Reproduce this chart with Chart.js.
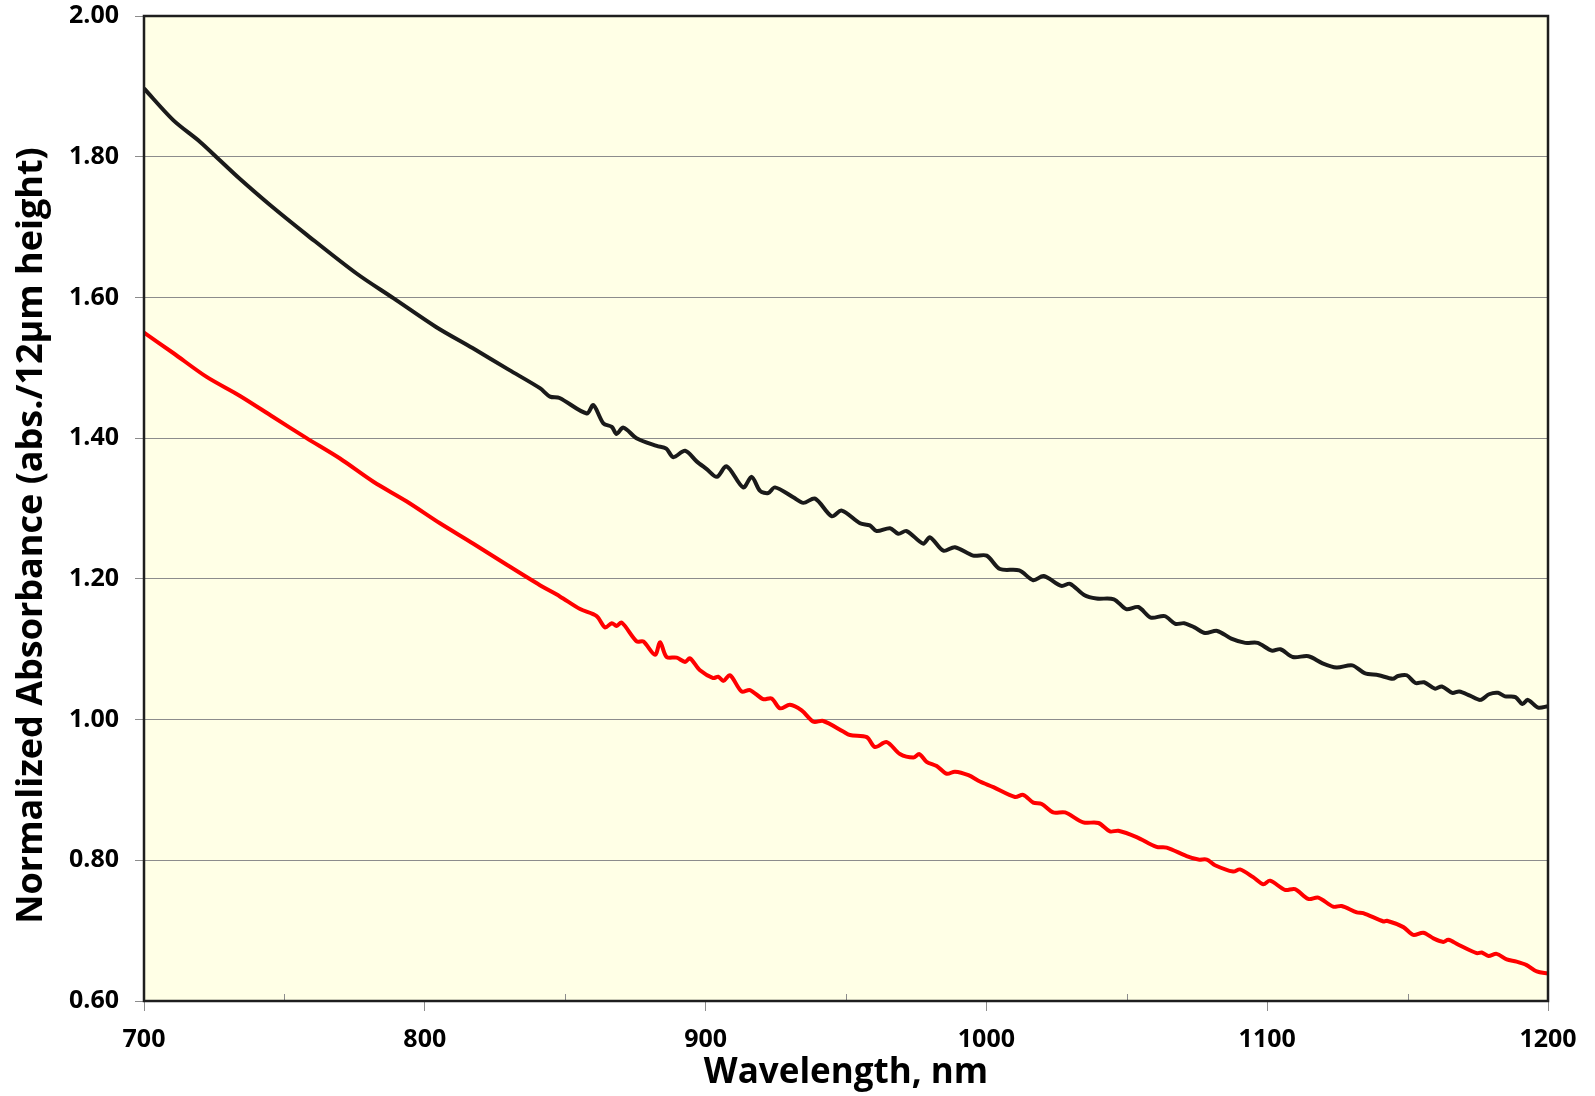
<!DOCTYPE html>
<html>
<head>
<meta charset="utf-8">
<script src="https://cdn.jsdelivr.net/npm/chart.js@4/dist/chart.umd.min.js"></script>
<style>
  html, body { margin:0; padding:0; background:#fff; }
  #wrap { width:1595px; height:1096px; }
</style>
</head>
<body>
<div id="wrap"><canvas id="chart" width="1595" height="1096"></canvas></div>
<script>
// black curve (upper)
const blackWl = [700,710.4,720,727,734,745,758,775.7,788.8,804,817,830,841,844.6,848,857.7,860,863.6,866.6,868.3,870.7,875.4,882.6,886,888.5,892.7,896.8,900.4,904,907.5,913.4,916.4,919.4,922.3,924.7,931.2,934.8,939,944.9,948.5,955,958.5,960.9,965.7,968.6,971.6,977.5,979.9,984.7,988.8,995.3,1000.1,1004.8,1011.7,1016.7,1020.4,1026.7,1029.8,1034.8,1039.2,1045.4,1049.8,1054.1,1058.5,1063.5,1067.3,1070.4,1074.1,1077.9,1082.2,1087.2,1092.2,1096.6,1101.6,1104.7,1109.1,1114.7,1119.7,1124.7,1130.3,1134.7,1139.7,1144.7,1146.6,1149.7,1152.8,1155.9,1159.7,1162.2,1165.9,1168.4,1172.2,1175.9,1179,1182.2,1184.7,1188.4,1190.9,1192.8,1196.5,1200];
const blackAbs = [1.897,1.852,1.821,1.795,1.769,1.731,1.689,1.634,1.599,1.558,1.528,1.497,1.471,1.459,1.457,1.435,1.447,1.421,1.416,1.406,1.415,1.400,1.389,1.385,1.373,1.382,1.367,1.356,1.345,1.360,1.330,1.345,1.325,1.322,1.330,1.316,1.308,1.314,1.289,1.297,1.279,1.276,1.268,1.272,1.264,1.268,1.250,1.259,1.240,1.245,1.233,1.233,1.214,1.212,1.198,1.204,1.190,1.193,1.177,1.172,1.171,1.157,1.160,1.145,1.147,1.136,1.137,1.131,1.123,1.126,1.115,1.109,1.109,1.098,1.100,1.089,1.090,1.080,1.074,1.077,1.066,1.063,1.058,1.062,1.063,1.052,1.053,1.044,1.047,1.038,1.040,1.034,1.028,1.036,1.038,1.033,1.032,1.022,1.028,1.017,1.019];

// red curve (lower)
const redWl = [700,710.4,722.3,734.2,746,757.9,769.8,781.7,793.6,805.4,817.3,829.2,841,848.1,855.3,861.2,864.2,866.6,868.3,870.1,875.5,877.8,882,883.8,886.1,889.7,892.7,894.4,898,902.7,904.5,906.3,908.7,912.8,915.8,920.5,923.5,926.5,930,934.2,938.4,941.9,949,951.4,957.4,960.3,964.5,969.2,974,976.1,978.7,982.3,985.9,988.8,993.6,997.7,1002.5,1010.2,1013.1,1016.7,1019.7,1023.8,1028,1034.5,1039.9,1044,1047,1053.5,1060.6,1064.2,1071.3,1075.5,1078.5,1081.4,1087.9,1090.3,1095,1098.6,1101,1106.3,1109.9,1114.6,1118.2,1123.5,1126.5,1131.9,1134.2,1141.4,1142.6,1148.5,1152,1155.6,1159.2,1162.7,1164.5,1168.1,1174.6,1176.4,1178.8,1181.7,1185.3,1188.8,1192.4,1196,1200];
const redAbs = [1.550,1.521,1.487,1.460,1.430,1.400,1.371,1.338,1.310,1.279,1.250,1.220,1.191,1.175,1.157,1.147,1.131,1.137,1.133,1.138,1.111,1.111,1.092,1.110,1.089,1.088,1.082,1.087,1.070,1.059,1.061,1.055,1.063,1.040,1.042,1.029,1.030,1.016,1.021,1.013,0.997,0.998,0.983,0.978,0.975,0.961,0.968,0.951,0.946,0.951,0.940,0.934,0.923,0.926,0.921,0.912,0.904,0.890,0.893,0.882,0.880,0.868,0.868,0.854,0.853,0.841,0.842,0.833,0.819,0.818,0.806,0.801,0.801,0.793,0.784,0.787,0.776,0.766,0.771,0.758,0.759,0.745,0.747,0.734,0.735,0.726,0.725,0.713,0.714,0.705,0.694,0.697,0.689,0.684,0.687,0.680,0.668,0.669,0.664,0.667,0.659,0.656,0.651,0.642,0.639];

const xMinorTicks = [750,850,950,1050,1150];
const yTitle = "Normalized Absorbance (abs./12µm height)";

const FONT = "'Open Sans', 'Noto Sans', sans-serif";
const toPts = (xs, ys) => xs.map((x, i) => ({ x, y: ys[i] }));

// plot background + frame + inside minor ticks + y title
const plotDeco = {
  id: "plotDeco",
  beforeDraw(chart){
    const { ctx, chartArea:a } = chart;
    ctx.save();
    ctx.fillStyle = "#FFFFE6";
    ctx.fillRect(a.left, a.top, a.right - a.left, a.bottom - a.top);
    ctx.restore();
  },
  afterDraw(chart){
    const { ctx, chartArea:a, scales } = chart;
    ctx.save();
    ctx.strokeStyle = "#8c8c8c";
    ctx.lineWidth = 1;
    xMinorTicks.forEach(v => {
      const px = Math.round(scales.x.getPixelForValue(v)) + 0.5;
      ctx.beginPath();
      ctx.moveTo(px, a.bottom);
      ctx.lineTo(px, a.bottom - 7);
      ctx.stroke();
    });
    ctx.strokeStyle = "#1e1e1e";
    ctx.lineWidth = 2.5;
    ctx.strokeRect(a.left, a.top, a.right - a.left, a.bottom - a.top);

    // y title, Excel puts it a little below the plot centre
    ctx.translate(32, (a.top + a.bottom) / 2 + 27);
    ctx.rotate(-Math.PI / 2);
    ctx.fillStyle = "#000";
    ctx.font = "bold 36px " + FONT;
    ctx.textAlign = "center";
    ctx.textBaseline = "middle";
    ctx.fillText(yTitle, 0, 0);
    ctx.restore();
  }
};

new Chart(document.getElementById("chart"), {
  type: "line",
  data: {
    datasets: [
      { data: toPts(blackWl, blackAbs), borderColor: "#1a1a1a", borderWidth: 4, pointRadius: 0, tension: 0.3 },
      { data: toPts(redWl, redAbs), borderColor: "#ff0000", borderWidth: 4, pointRadius: 0, tension: 0.3 }
    ]
  },
  options: {
    responsive: false,
    animation: false,
    layout: { padding: { left: 0, top: 16, right: 47, bottom: 0 } },
    plugins: { legend: { display: false }, tooltip: { enabled: false } },
    scales: {
      x: {
        type: "linear", min: 700, max: 1200,
        afterFit: (s) => { s.height = 95; s.paddingLeft = 0; s.paddingRight = 0; },
        ticks: { stepSize: 100, color: "#000", padding: 14, callback: (v) => String(v),
                 font: { family: FONT, size: 25, weight: "bold" } },
        grid: { drawOnChartArea: false, drawTicks: true, tickLength: 10, color: "#8c8c8c" },
        border: { display: false },
        title: { display: true, text: "Wavelength, nm", color: "#000", padding: { top: 0, bottom: 2 },
                 font: { family: FONT, size: 35, weight: "bold" } }
      },
      y: {
        min: 0.6, max: 2.0,
        afterFit: (s) => { s.width = 144; s.paddingTop = 0; s.paddingBottom = 0; },
        ticks: { stepSize: 0.2, color: "#000", padding: 16, callback: (v) => v.toFixed(2),
                 font: { family: FONT, size: 25, weight: "bold" } },
        grid: { color: "#8c8c8c", lineWidth: 1, tickLength: 9 },
        border: { display: false }
      }
    }
  },
  plugins: [plotDeco]
});
</script>
</body>
</html>
